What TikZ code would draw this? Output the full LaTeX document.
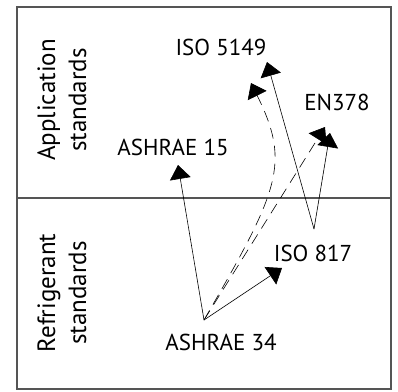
\documentclass[tikz,border=0pt]{standalone}
\usepackage{fontspec}
\setmainfont{PT Sans}
\definecolor{framegray}{RGB}{85, 85, 85}
\usetikzlibrary{arrows.meta}

\begin{document}
\begin{tikzpicture}[x=1pt, y=-1pt]
    \tikzstyle{lbl} = [inner sep=0pt, font=\fontsize{23}{26}\selectfont]
    \tikzstyle{side} = [inner sep=0pt, rotate=90, align=center, font=\fontsize{25}{31}\selectfont]
    \tikzstyle{line} = [draw, line width=0.6pt, -{Triangle[length=14pt, width=21pt]}]
    \tikzstyle{dline} = [line, dash pattern=on 11pt off 7pt]

    \useasboundingbox (0,0) rectangle (398,391);
    \draw [framegray, line width=1.2pt] (17,7) rectangle (391,389);
    \draw [framegray, line width=1.2pt] (17,198) -- (391,198);

    % Side titles
    \node [side] (app) at (62,100) {Application\\standards};
    \node [side] (ref) at (62,293) {Refrigerant\\standards};

    % Standards
    \node [lbl] (iso5149) at (221,47) {ISO 5149};
    \node [lbl] (en378) at (337,102) {EN378};
    \node [lbl] (ash15) at (173,147) {ASHRAE 15};
    \node [lbl] (iso817) at (313,253) {ISO 817};
    \node [lbl] (ash34) at (221,342) {ASHRAE 34};

    % Arrow ends
    \coordinate (from34) at (204,320);
    \coordinate (from817) at (314,229);
    \coordinate (to15) at (178,165);
    \coordinate (to817) at (282,268);
    \coordinate (to5149a) at (251,83);
    \coordinate (to5149b) at (267,62);
    \coordinate (to378a) at (325,127);
    \coordinate (to378b) at (330,133);

    \path [line] (from34) -- (to15);
    \path [line] (from34) -- (to817);
    \path [dline] (from34) .. controls (279,190) and (291,164) .. (to5149a);
    \path [dline] (from34) -- (to378a);
    \path [line] (from817) -- (to5149b);
    \path [line] (from817) -- (to378b);
\end{tikzpicture}
\end{document}
